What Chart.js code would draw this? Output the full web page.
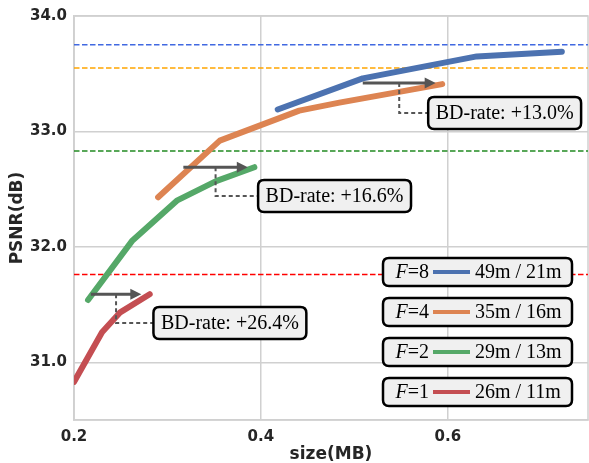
<!DOCTYPE html>
<html>
<head>
<meta charset="utf-8">
<script src="https://cdn.jsdelivr.net/npm/chart.js@4.4.1/dist/chart.umd.min.js"></script>
<style>
  html, body { margin: 0; padding: 0; background: #fff; }
  #wrap { width: 589px; height: 463px; }
</style>
</head>
<body>
<div id="wrap"><canvas id="chart"></canvas></div>
<script>
// rate-distortion curves, one per factor F
const factors = [8, 4, 2, 1];
const timeLabels = ['49m / 21m', '35m / 16m', '29m / 13m', '26m / 11m'];
const lineColors = ['#4c72b0', '#dd8452', '#55a868', '#c44e52'];

const sizeF8 = [0.418, 0.509, 0.631, 0.722];
const psnrF8 = [33.19, 33.46, 33.65, 33.69];
const sizeF4 = [0.290, 0.356, 0.441, 0.484, 0.594];
const psnrF4 = [32.43, 32.92, 33.18, 33.25, 33.41];
const sizeF2 = [0.215, 0.262, 0.310, 0.352, 0.393];
const psnrF2 = [31.54, 32.05, 32.40, 32.57, 32.69];
const sizeF1 = [0.200, 0.230, 0.249, 0.281];
const psnrF1 = [30.83, 31.26, 31.43, 31.59];

// dashed reference levels
const refPsnr = [33.75, 33.55, 32.83, 31.76];
const refColors = ['#4169e1', '#ffa500', '#228b22', '#ff0000'];

// BD-rate arrows (in data units)
const bdLabels = ['BD-rate: +13.0%', 'BD-rate: +16.6%', 'BD-rate: +26.4%'];
const arrowY = [33.42, 32.69, 31.59];
const arrowX0 = [0.509, 0.317, 0.218];
const arrowX1 = [0.587, 0.386, 0.272];
const boxX = [0.579, 0.397, 0.285];
const boxY = [33.16, 32.44, 31.34];

const xTicks = [0.2, 0.4, 0.6];
const yTicks = [31, 32, 33, 34];

const sizes = [sizeF8, sizeF4, sizeF2, sizeF1];
const psnrs = [psnrF8, psnrF4, psnrF2, psnrF1];

const datasets = [];
factors.forEach((f, i) => {
    datasets.push({
        label: 'F=' + f,
        data: sizes[i].map((x, j) => ({ x: x, y: psnrs[i][j] })),
        showLine: true,
        borderColor: lineColors[i],
        borderWidth: 6,
        borderCapStyle: 'round',
        borderJoinStyle: 'round',
        pointRadius: 0,
        order: 0,
    });
});
refPsnr.forEach((v, i) => {
    datasets.push({
        label: 'ref' + i,
        data: [{ x: 0.2, y: v }, { x: 0.75, y: v }],
        showLine: true,
        borderColor: refColors[i],
        borderWidth: 1.5,
        borderDash: [5.5, 2.5],
        pointRadius: 0,
        order: 1,
    });
});

function roundBox(ctx, x, y, w, h, r) {
    ctx.beginPath();
    ctx.moveTo(x + r, y);
    ctx.lineTo(x + w - r, y);
    ctx.quadraticCurveTo(x + w, y, x + w, y + r);
    ctx.lineTo(x + w, y + h - r);
    ctx.quadraticCurveTo(x + w, y + h, x + w - r, y + h);
    ctx.lineTo(x + r, y + h);
    ctx.quadraticCurveTo(x, y + h, x, y + h - r);
    ctx.lineTo(x, y + r);
    ctx.quadraticCurveTo(x, y, x + r, y);
    ctx.closePath();
    ctx.fillStyle = '#f0f0f0';
    ctx.fill();
    ctx.lineWidth = 2.5;
    ctx.strokeStyle = '#000';
    ctx.stroke();
}

// frame on top/right, like the seaborn style
const framePlugin = {
    id: 'frame',
    beforeDatasetsDraw(chart) {
        const { ctx, chartArea } = chart;
        ctx.save();
        ctx.strokeStyle = '#d0d0d0';
        ctx.lineWidth = 1.5;
        ctx.strokeRect(chartArea.left, chartArea.top, chartArea.right - chartArea.left, chartArea.bottom - chartArea.top);
        ctx.restore();
    },
};

const annotPlugin = {
    id: 'annot',
    afterDatasetsDraw(chart) {
        const { ctx } = chart;
        const xs = chart.scales.x;
        const ys = chart.scales.y;
        ctx.save();
        ctx.font = '20px "Liberation Serif"';
        bdLabels.forEach((txt, i) => {
            const y = ys.getPixelForValue(arrowY[i]);
            const x0 = xs.getPixelForValue(arrowX0[i]);
            const x1 = xs.getPixelForValue(arrowX1[i]);
            const xm = (x0 + x1) / 2;
            const bx = xs.getPixelForValue(boxX[i]);
            const by = ys.getPixelForValue(boxY[i]);

            // dashed connector
            ctx.strokeStyle = '#555';
            ctx.lineWidth = 2;
            ctx.setLineDash([4, 3]);
            ctx.beginPath();
            ctx.moveTo(xm, y);
            ctx.lineTo(xm, by);
            ctx.lineTo(bx, by);
            ctx.stroke();
            ctx.setLineDash([]);

            // arrow
            ctx.lineWidth = 3;
            ctx.beginPath();
            ctx.moveTo(x0, y);
            ctx.lineTo(x1 - 9, y);
            ctx.stroke();
            ctx.fillStyle = '#555';
            ctx.beginPath();
            ctx.moveTo(x1, y);
            ctx.lineTo(x1 - 11, y - 5.5);
            ctx.lineTo(x1 - 11, y + 5.5);
            ctx.closePath();
            ctx.fill();

            // label box
            const tw = ctx.measureText(txt).width;
            const bw = tw + 15, bh = 32;
            roundBox(ctx, bx, by - bh / 2, bw, bh, 6);
            ctx.fillStyle = '#000';
            ctx.textBaseline = 'middle';
            ctx.textAlign = 'left';
            ctx.fillText(txt, bx + 7.5, by + 1);
        });

        // legend boxes
        const lx = chart.chartArea.right - 205, bw = 189, bh = 28;
        factors.forEach((f, i) => {
            const ly = 258 + i * 40;
            roundBox(ctx, lx, ly, bw, bh, 6);
            const cy = ly + bh / 2 + 1;
            ctx.fillStyle = '#000';
            ctx.textBaseline = 'middle';
            ctx.font = 'italic 20px "Liberation Serif"';
            const wF = ctx.measureText('F').width;
            ctx.font = '20px "Liberation Serif"';
            const wRest = ctx.measureText('=' + f).width;
            const endX = lx + 46;
            ctx.font = 'italic 20px "Liberation Serif"';
            ctx.fillText('F', endX - wRest - wF, cy);
            ctx.font = '20px "Liberation Serif"';
            ctx.fillText('=' + f, endX - wRest, cy);
            ctx.strokeStyle = lineColors[i];
            ctx.lineWidth = 4;
            ctx.beginPath();
            ctx.moveTo(lx + 50, cy - 1);
            ctx.lineTo(lx + 87, cy - 1);
            ctx.stroke();
            ctx.fillText(timeLabels[i], lx + 92, cy);
        });
        ctx.restore();
    },
};

const tickFont = { family: 'DejaVu Sans', size: 15, weight: 'bold' };

new Chart(document.getElementById('chart'), {
    type: 'scatter',
    data: { datasets: datasets },
    options: {
        responsive: true,
        maintainAspectRatio: false,
        animation: false,
        layout: { padding: { top: 14, right: 1, left: 0, bottom: 0 } },
        plugins: {
            legend: { display: false },
            tooltip: { enabled: false },
        },
        scales: {
            x: {
                type: 'linear',
                min: 0.2,
                max: 0.75,
                afterBuildTicks(scale) { scale.ticks = xTicks.map(v => ({ value: v })); },
                afterFit(scale) { scale.height = 43; },
                grid: { color: '#d0d0d0', lineWidth: 1.5, drawTicks: false },
                border: { color: '#d0d0d0', width: 1.5 },
                ticks: {
                    font: tickFont,
                    color: '#262626',
                    padding: 8,
                    callback: v => v.toFixed(1),
                },
                title: {
                    display: true,
                    text: 'size(MB)',
                    font: { family: 'DejaVu Sans', size: 17, weight: 'bold', lineHeight: 1 },
                    color: '#262626',
                    padding: 0,
                },
            },
            y: {
                type: 'linear',
                min: 30.5,
                max: 34.0,
                afterBuildTicks(scale) { scale.ticks = yTicks.map(v => ({ value: v })); },
                afterFit(scale) { scale.width = 74; },
                grid: { color: '#d0d0d0', lineWidth: 1.5, drawTicks: false },
                border: { color: '#d0d0d0', width: 1.5 },
                ticks: {
                    font: tickFont,
                    color: '#262626',
                    padding: 7,
                    callback: v => v.toFixed(1),
                },
                title: {
                    display: true,
                    text: 'PSNR(dB)',
                    font: { family: 'DejaVu Sans', size: 17, weight: 'bold' },
                    color: '#262626',
                    padding: { top: 7, bottom: 0 },
                },
            },
        },
    },
    plugins: [framePlugin, annotPlugin],
});
</script>
</body>
</html>
